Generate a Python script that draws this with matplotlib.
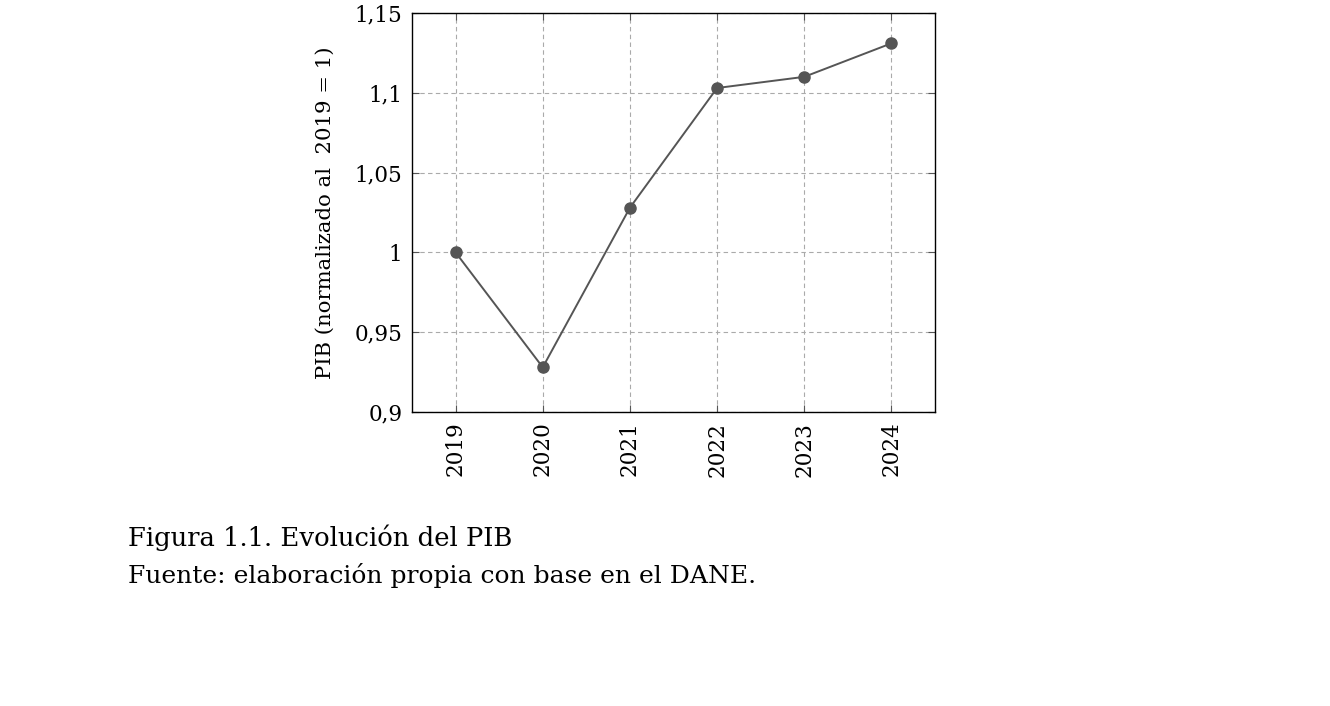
import matplotlib
matplotlib.use("Agg")
import matplotlib.pyplot as plt

years = [2019, 2020, 2021, 2022, 2023, 2024]
pib = [1.000, 0.928, 1.028, 1.103, 1.110, 1.131]
yticks = [0.9, 0.95, 1.0, 1.05, 1.1, 1.15]
ytick_labels = ["0,9", "0,95", "1", "1,05", "1,1", "1,15"]
xtick_labels = ["2019", "2020", "2021", "2022", "2023", "2024"]
ylabel = "PIB (normalizado al  2019 = 1)"
caption1 = "Figura 1.1. Evolución del PIB"
caption2 = "Fuente: elaboración propia con base en el DANE."

plt.rcParams['font.family'] = ['DejaVu Serif']
W, H = 1330, 706
fig = plt.figure(figsize=(W/100, H/100), dpi=100)
ax = fig.add_axes([412/W, 1-412/H, (935-412)/W, (412-13)/H])

ax.plot(years, pib, color='#555555', lw=1.4, marker='o', ms=8, zorder=3)
ax.set_xlim(2018.5, 2024.5)
ax.set_ylim(0.9, 1.15)
ax.set_yticks(yticks)
ax.set_yticklabels(ytick_labels, fontsize=15.5)
ax.set_xticks(years)
ax.set_xticklabels(xtick_labels, rotation=90, fontsize=15.5)
ax.tick_params(direction='in', length=5, width=0.8, top=True, right=True, color='#555555', pad=7)
ax.grid(True, ls=(0, (4, 3)), color='#aaaaaa', lw=0.8)
for s in ax.spines.values():
    s.set_linewidth(1.0)
ax.set_ylabel(ylabel, fontsize=15.3, labelpad=14)

fig.text(128/W, 1-546/H, caption1, fontsize=18.6, ha='left', va='baseline')
fig.text(128/W, 1-583/H, caption2, fontsize=18.0, ha='left', va='baseline')

fig.savefig("out.png", dpi=100)
